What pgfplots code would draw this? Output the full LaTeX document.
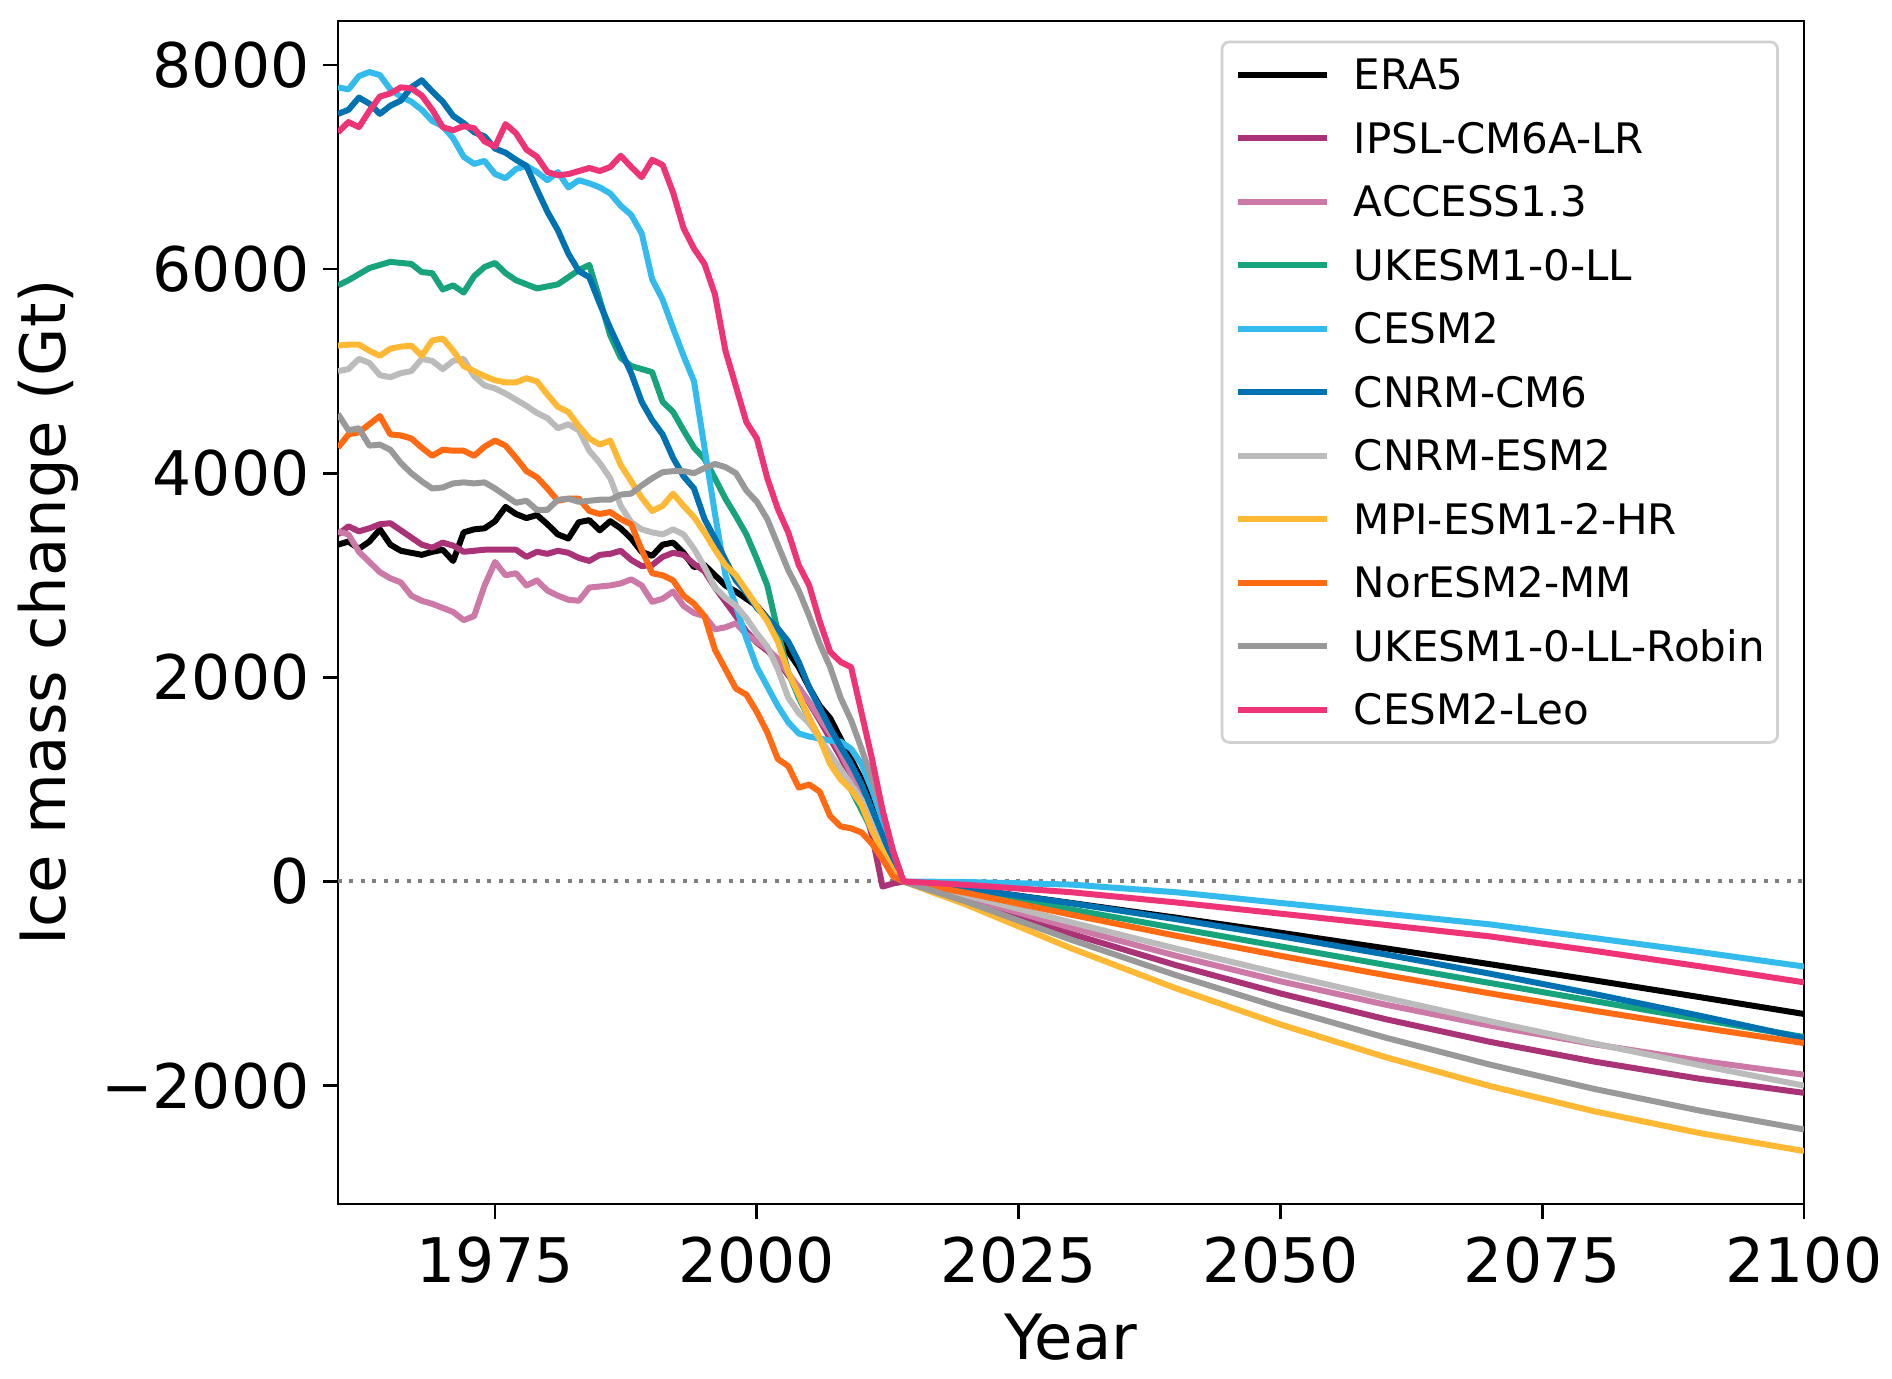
\documentclass[border=0pt]{standalone}
\usepackage{pgfplots}
\pgfplotsset{compat=1.18}
\usepackage{pgfplotstable}
\usepackage{fontspec}
\setmainfont{DejaVu Sans}

\definecolor{cIPSL}{HTML}{AA3377}
\definecolor{cACC}{HTML}{CC79A7}
\definecolor{cUK}{HTML}{17A37C}
\definecolor{cCESM}{HTML}{33BBEE}
\definecolor{cCNRM}{HTML}{0072B2}
\definecolor{cESM}{HTML}{BBBBBB}
\definecolor{cMPI}{HTML}{FFB833}
\definecolor{cNOR}{HTML}{FF6A13}
\definecolor{cROB}{HTML}{999999}
\definecolor{cLEO}{HTML}{EE3377}

% cumulative ice mass change (Gt); historical yearly, projections every 10 yr
\pgfplotstableread{
year era ipsl access ukesm cesm cnrmcm cnrmesm mpi nor robin leo
1960 3300 3400 3430 5840 7780 7520 5000 5250 4250 4580 7340
1961 3330 3480 3400 5890 7760 7560 5020 5260 4380 4420 7440
1962 3260 3430 3230 5950 7890 7680 5120 5260 4400 4440 7390
1963 3330 3460 3130 6010 7930 7620 5080 5200 4480 4270 7550
1964 3450 3500 3030 6040 7900 7520 4960 5150 4560 4280 7690
1965 3300 3510 2970 6070 7760 7600 4940 5220 4380 4230 7720
1966 3240 3440 2930 6060 7690 7650 4980 5240 4370 4100 7780
1967 3220 3370 2800 6050 7640 7780 5000 5250 4340 4000 7770
1968 3200 3300 2750 5970 7560 7850 5120 5150 4250 3920 7700
1969 3230 3270 2720 5960 7450 7740 5100 5300 4170 3850 7560
1970 3250 3320 2680 5800 7400 7640 5020 5320 4230 3860 7390
1971 3140 3290 2640 5840 7280 7500 5100 5200 4220 3900 7360
1972 3420 3230 2560 5770 7100 7430 5120 5050 4220 3910 7400
1973 3450 3240 2600 5930 7030 7340 4950 5000 4170 3900 7380
1974 3460 3250 2900 6020 7060 7300 4860 4950 4260 3910 7250
1975 3530 3250 3130 6060 6930 7180 4830 4910 4320 3850 7200
1976 3670 3250 3000 5960 6890 7140 4780 4890 4270 3780 7420
1977 3600 3250 3020 5890 6980 7070 4720 4890 4150 3710 7330
1978 3560 3180 2900 5850 7010 7010 4660 4930 4020 3730 7170
1979 3590 3230 2950 5810 6950 6780 4590 4900 3960 3640 7100
1980 3500 3210 2850 5830 6870 6560 4540 4770 3850 3640 6950
1981 3400 3240 2800 5850 6950 6380 4440 4650 3730 3740 6920
1982 3360 3220 2760 5920 6800 6150 4480 4600 3750 3750 6930
1983 3520 3170 2750 5990 6870 5980 4420 4460 3750 3720 6960
1984 3540 3140 2880 6040 6840 5920 4220 4340 3630 3730 6990
1985 3440 3200 2890 5700 6800 5660 4100 4280 3600 3740 6960
1986 3530 3210 2900 5350 6740 5420 3950 4320 3620 3740 7000
1987 3460 3240 2920 5130 6620 5200 3680 4080 3550 3790 7110
1988 3360 3150 2960 5050 6530 4980 3520 3920 3500 3800 7000
1989 3230 3090 2900 5020 6350 4700 3450 3760 3250 3880 6900
1990 3190 3100 2740 4990 5900 4520 3420 3630 3020 3950 7070
1991 3300 3180 2770 4700 5700 4380 3400 3680 3000 4010 7020
1992 3320 3220 2840 4600 5420 4150 3450 3800 2950 4020 6750
1993 3220 3200 2700 4420 5150 3970 3400 3680 2800 4020 6400
1994 3080 3110 2630 4250 4900 3850 3260 3570 2720 4000 6200
1995 3100 3040 2600 4140 4250 3550 3080 3420 2600 4050 6050
1996 3000 2880 2470 3950 3600 3360 2880 3250 2270 4090 5750
1997 2900 2740 2490 3750 3000 3150 2780 3100 2080 4060 5200
1998 2840 2600 2530 3580 2700 2950 2700 3000 1890 4000 4850
1999 2770 2450 2420 3400 2380 2830 2580 2850 1830 3830 4500
2000 2700 2340 2350 3160 2100 2680 2430 2700 1660 3720 4340
2001 2580 2260 2280 2900 1910 2580 2300 2550 1460 3550 3950
2002 2450 2160 2180 2450 1720 2480 2080 2350 1200 3300 3650
2003 2250 2020 2040 2050 1560 2350 1800 2050 1130 3050 3420
2004 2100 1900 1900 1800 1450 2150 1650 1830 920 2850 3100
2005 1900 1750 1760 1600 1420 1900 1550 1600 950 2600 2900
2006 1720 1580 1600 1400 1400 1700 1400 1400 880 2330 2550
2007 1600 1400 1450 1200 1380 1500 1250 1150 640 2100 2250
2008 1400 1220 1260 1050 1370 1320 1100 1000 540 1800 2150
2009 1200 1020 1060 900 1300 1150 950 900 520 1580 2100
2010 1000 820 860 700 1150 950 800 750 480 1300 1650
2011 750 450 620 500 900 700 550 500 370 1000 1200
2012 500 -50 350 300 600 450 300 300 220 700 700
2013 250 -20 130 100 280 150 100 100 50 300 300
2014 0 0 0 0 0 0 0 0 0 0 0
2020 -69 -178 -157 -92 -5 -68 -136 -227 -111 -197 -33
2030 -210 -512 -453 -274 -30 -213 -400 -654 -325 -570 -105
2040 -354 -819 -727 -456 -105 -369 -656 -1046 -531 -917 -205
2050 -502 -1097 -978 -636 -210 -536 -903 -1401 -728 -1236 -315
2060 -654 -1348 -1206 -816 -315 -714 -1140 -1720 -917 -1529 -425
2070 -810 -1571 -1411 -994 -420 -903 -1369 -2004 -1096 -1794 -538
2080 -969 -1765 -1595 -1172 -555 -1103 -1588 -2252 -1267 -2033 -680
2090 -1132 -1932 -1755 -1349 -690 -1314 -1799 -2464 -1429 -2244 -830
2100 -1298 -2071 -1893 -1524 -833 -1536 -2000 -2641 -1583 -2429 -988
}\ice

\begin{document}
\begin{tikzpicture}
\begin{axis}[
  name=ax,
  scale only axis,
  width=293.2pt, height=236.6pt,
  xmin=1960, xmax=2100, ymin=-3160, ymax=8430,
  xtick={1975,2000,2025,2050,2075,2100},
  ytick={-2000,0,2000,4000,6000,8000},
  yticklabels={−2000,0,2000,4000,6000,8000},
  scaled ticks=false,
  /pgf/number format/1000 sep={},
  /pgf/number format/assume math mode=true,
  tick align=outside, tick pos=left,
  major tick length=3pt,
  every tick/.style={black, line width=0.55pt},
  axis line style={line width=0.55pt},
  tick label style={font=\fontsize{12.3}{14.5}\selectfont},
  yticklabel style={xshift=0.8pt},
  xlabel={Year},
  ylabel={Ice mass change (Gt)},
  every axis x label/.style={at={(rel axis cs:0.5,0)}, yshift=-26.6pt, anchor=center,
    font=\fontsize{12.5}{15}\selectfont},
  every axis y label/.style={at={(rel axis cs:0,0.5)}, xshift=-57.9pt, rotate=90, anchor=center,
    font=\fontsize{12.5}{15}\selectfont},
  every axis plot/.append style={line width=1.2pt, line join=round},
  legend cell align=left,
  legend image code/.code={\draw[#1] (0pt,0pt) -- (17.8pt,0pt);},
  legend style={
    at={(rel axis cs:1,1)}, xshift=-5.0pt, yshift=-3.9pt, anchor=north east,
    draw=black!18, line width=0.55pt, rounded corners=1.5pt,
    font=\fontsize{8.4}{10}\selectfont,
    inner xsep=2.6pt, inner ysep=3.5pt,
    row sep=6.6pt, column sep=4.8pt,
    nodes={inner sep=0pt, text height=6.1pt, text depth=0pt},
  },
]
\addplot[forget plot, gray, line width=0.8pt, dash pattern=on 0.8pt off 1.5pt] coordinates {(1960,0) (2100,0)};
\addplot[black] table[x=year, y=era] {\ice};
\addlegendentry{ERA5}
\addplot[cIPSL] table[x=year, y=ipsl] {\ice};
\addlegendentry{IPSL-CM6A-LR}
\addplot[cACC] table[x=year, y=access] {\ice};
\addlegendentry{ACCESS1.3}
\addplot[cUK] table[x=year, y=ukesm] {\ice};
\addlegendentry{UKESM1-0-LL}
\addplot[cCESM] table[x=year, y=cesm] {\ice};
\addlegendentry{CESM2}
\addplot[cCNRM] table[x=year, y=cnrmcm] {\ice};
\addlegendentry{CNRM-CM6}
\addplot[cESM] table[x=year, y=cnrmesm] {\ice};
\addlegendentry{CNRM-ESM2}
\addplot[cMPI] table[x=year, y=mpi] {\ice};
\addlegendentry{MPI-ESM1-2-HR}
\addplot[cNOR] table[x=year, y=nor] {\ice};
\addlegendentry{NorESM2-MM}
\addplot[cROB] table[x=year, y=robin] {\ice};
\addlegendentry{UKESM1-0-LL-Robin}
\addplot[cLEO] table[x=year, y=leo] {\ice};
\addlegendentry{CESM2-Leo}
\end{axis}
\pgfresetboundingbox
\useasboundingbox ([xshift=-67.6pt,yshift=-34.8pt]ax.south west) rectangle ([xshift=17.6pt,yshift=4.2pt]ax.north east);
\end{tikzpicture}
\end{document}
